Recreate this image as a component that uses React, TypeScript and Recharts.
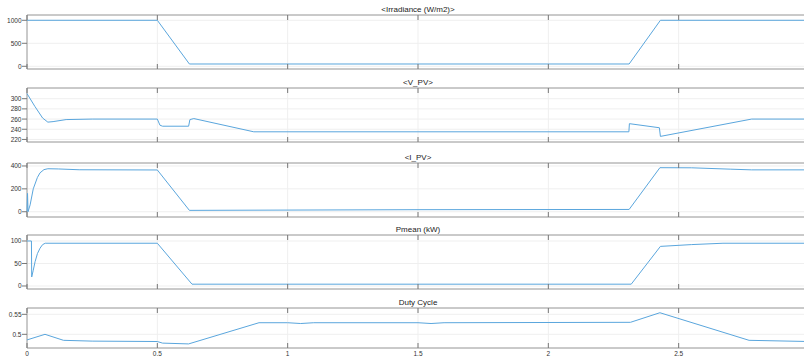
import { LineChart, Line, XAxis, YAxis, CartesianGrid, ReferenceArea } from "recharts";

const timeTicks = [0, 0.5, 1, 1.5, 2, 2.5];

const irrTime = [0, 0.5, 0.623, 2.31, 2.43, 3];
const irrValue = [1000, 1000, 50, 50, 1000, 1000];

const vpvTime = [0, 0.03, 0.06, 0.08, 0.1, 0.15, 0.25, 0.5, 0.51, 0.52, 0.62, 0.625, 0.64, 0.87, 2.309, 2.311, 2.426, 2.43, 2.78, 3];
const vpvValue = [310, 285, 262, 254, 255, 259, 260, 260, 248, 246, 246, 259, 261, 235, 235, 251, 243, 226, 260, 260];

const ipvTime = [0, 0.002, 0.004, 0.012, 0.024, 0.04, 0.05, 0.065, 0.08, 0.12, 0.2, 0.5, 0.623, 1.5, 2.31, 2.428, 2.55, 2.7, 2.78, 3];
const ipvValue = [0, 160, 0, 60, 200, 300, 340, 368, 376, 374, 367, 365, 12, 18, 20, 385, 384, 372, 366, 366];

const pmeanTime = [0, 0.017, 0.018, 0.024, 0.031, 0.04, 0.05, 0.06, 0.07, 0.5, 0.633, 2.318, 2.43, 2.55, 2.67, 3];
const pmeanValue = [100, 100, 20, 35, 54, 72, 84, 92, 95, 95, 4, 4, 88, 92, 95, 95];

const dutyTime = [0, 0.069, 0.14, 0.25, 0.5, 0.52, 0.62, 0.89, 1.0, 1.05, 1.1, 1.5, 1.55, 1.6, 2.315, 2.428, 2.77, 3];
const dutyValue = [0.486, 0.5, 0.485, 0.483, 0.482, 0.478, 0.476, 0.529, 0.529, 0.527, 0.529, 0.529, 0.527, 0.529, 0.53, 0.554, 0.485, 0.482];

const irrTicks = [0, 500, 1000];
const vpvTicks = [220, 240, 260, 280, 300];
const ipvTicks = [0, 200, 400];
const pmeanTicks = [0, 50, 100];
const dutyTicks = [0.5, 0.55];

const toRows = (ts: number[], vs: number[]) => ts.map((t, i) => ({ t, v: vs[i] }));

const W = 812;
const H = 360;
const LEFT = 27;
const RIGHT = 809;
const LINE = "#5aa6dd";
const FONT = "'Liberation Sans', Arial, sans-serif";

const panels = [
  { title: "<Irradiance (W/m2)>", top: 15, bottom: 69, domain: [-59, 1115], ticks: irrTicks, rows: toRows(irrTime, irrValue) },
  { title: "<V_PV>", top: 88, bottom: 142, domain: [215, 321], ticks: vpvTicks, rows: toRows(vpvTime, vpvValue) },
  { title: "<I_PV>", top: 163, bottom: 217, domain: [-46, 426], ticks: ipvTicks, rows: toRows(ipvTime, ipvValue) },
  { title: "Pmean (kW)", top: 235, bottom: 289, domain: [-6.7, 113.3], ticks: pmeanTicks, rows: toRows(pmeanTime, pmeanValue) },
  { title: "Duty Cycle", top: 308, bottom: 348, domain: [0.4658, 0.5658], ticks: dutyTicks, rows: toRows(dutyTime, dutyValue) },
];

function YTick(props: any) {
  const { y, payload } = props;
  return (
    <g>
      <line x1={LEFT - 5} x2={LEFT} y1={y} y2={y} stroke="#777" />
      <line x1={RIGHT - 4} x2={RIGHT} y1={y} y2={y} stroke="#777" />
      <text x={LEFT - 5.5} y={y} textAnchor="end" dominantBaseline="central" fontSize={6.5} fill="#333" fontFamily={FONT}>
        {payload.value}
      </text>
    </g>
  );
}

const makeXTick = (top: number, bottom: number, label: boolean) => (props: any) => {
  const { x, payload } = props;
  return (
    <g>
      <line x1={x} x2={x} y1={bottom} y2={bottom - 5} stroke="#777" />
      <line x1={x} x2={x} y1={top} y2={top + 5} stroke="#777" />
      {label && (
        <text x={x} y={bottom + 5} textAnchor="middle" dominantBaseline="central" fontSize={6.5} fill="#333" fontFamily={FONT}>
          {payload.value}
        </text>
      )}
    </g>
  );
};

export default function App() {
  return (
    <div style={{ position: "absolute", left: 0, top: 0, width: 804, height: H, overflow: "hidden", background: "#fff", fontFamily: FONT }}>
      {panels.map((p, i) => (
        <div key={p.title} style={{ position: "absolute", left: 0, top: 0, width: W, height: H }}>
          <div
            style={{
              position: "absolute",
              left: 0,
              width: 2 * 418,
              top: p.top - 10.5,
              height: 10,
              lineHeight: "10px",
              fontSize: 8,
              color: "#222",
              textAlign: "center",
            }}
          >
            {p.title}
          </div>
          <LineChart
            width={W}
            height={H}
            data={p.rows}
            margin={{ top: p.top, bottom: H - p.bottom - 1, left: LEFT - 1, right: W - RIGHT }}
            style={{ position: "absolute", left: 0, top: 0 }}
          >
            <CartesianGrid stroke="#efefef" />
            <XAxis
              dataKey="t"
              type="number"
              domain={[0, 3]}
              ticks={timeTicks}
              interval={0}
              height={1}
              axisLine={false}
              tickLine={false}
              tick={makeXTick(p.top, p.bottom, i === panels.length - 1)}
            />
            <YAxis
              type="number"
              domain={p.domain}
              ticks={p.ticks}
              interval={0}
              width={1}
              allowDataOverflow
              axisLine={false}
              tickLine={false}
              tick={YTick}
            />
            <ReferenceArea x1={0} x2={3} y1={p.domain[0]} y2={p.domain[1]} fill="none" stroke="#9c9c9c" strokeWidth={1} />
            <Line dataKey="v" type="linear" stroke={LINE} strokeWidth={1} dot={false} isAnimationActive={false} />
          </LineChart>
        </div>
      ))}
    </div>
  );
}
